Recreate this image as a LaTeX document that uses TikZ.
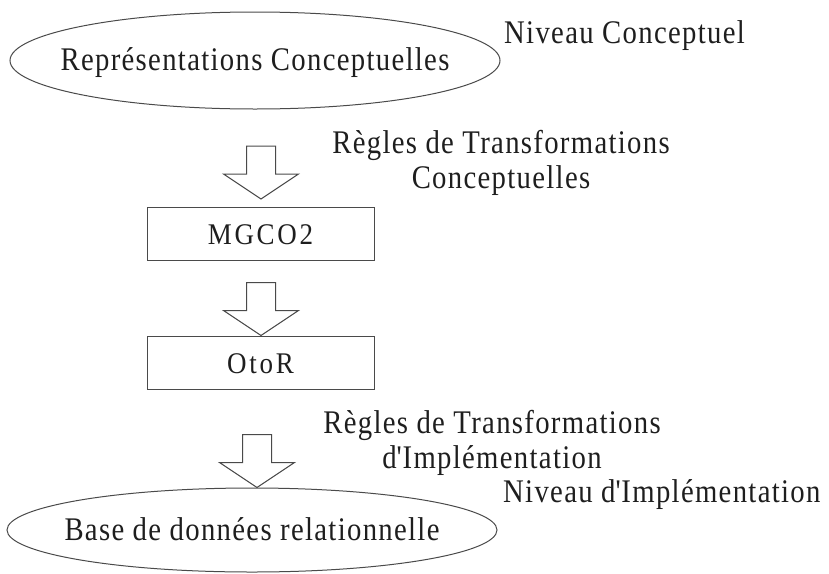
\documentclass[tikz,border=0pt]{standalone}
\usepackage{fontspec}
\setmainfont{Liberation Serif}
\newfontfamily\reffont[FakeStretch=0.87, LetterSpace=4]{Liberation Serif}
\newfontfamily\boxfont[FakeStretch=0.9, LetterSpace=9]{Liberation Serif}
\usetikzlibrary{shapes.geometric,calc}
\definecolor{ink}{HTML}{1E1E1E}
\definecolor{edgegray}{HTML}{4A4A4A}
\begin{document}
\begin{tikzpicture}[x=1pt,y=-1pt,
  txt/.style={font=\reffont\fontsize{33}{35}\selectfont, text=ink, inner sep=0pt},
  ell/.style={ellipse, draw=edgegray, line width=1pt, minimum width=490pt, inner ysep=0pt, inner xsep=-60pt,
    text height=22pt, text depth=2pt, font=\reffont\fontsize{33}{35}\selectfont, text=ink},
  stagebox/.style={rectangle, draw=edgegray, line width=1pt, minimum width=227pt, minimum height=53pt,
    inner sep=0pt, text height=21pt, text depth=0pt, font=\boxfont\fontsize{30}{32}\selectfont, text=ink},
  blockarrow/.pic={\draw[edgegray, line width=1pt, line join=miter]
    (-14.5,0) -- (-14.5,28) -- (-37.5,28) -- (0,53) -- (37.5,28) -- (14.5,28) -- (14.5,0) -- cycle;}]
\useasboundingbox (0,0) rectangle (829,573);

\node[ell, minimum height=97pt] (rep) at (255,60.5) {Représentations Conceptuelles};
\node[txt, anchor=base west] (nivc) at (504,43) {Niveau Conceptuel};

\node[txt, align=center, anchor=north] (rtc) at (501,130.5) {Règles de Transformations\\Conceptuelles};

\node[stagebox] (mgco) at (260.5,234) {MGCO2};
\node[stagebox] (otor) at (260.5,362.5) {OtoR};

\node[txt, align=center, anchor=north] (rti) at (492,410.5) {Règles de Transformations\\d\textquotesingle Implémentation};

\node[ell, minimum height=84pt] (base) at (252,530) {Base de données relationnelle};
\node[txt, anchor=base west] (nivi) at (503,502) {Niveau d\textquotesingle Implémentation};

\pic at ($(mgco.north)+(0.5,-61)$) {blockarrow};
\pic at ($(otor.north)+(0.5,-53)$) {blockarrow};
\pic at ($(base.north)+(5,-53)$) {blockarrow};
\end{tikzpicture}
\end{document}
